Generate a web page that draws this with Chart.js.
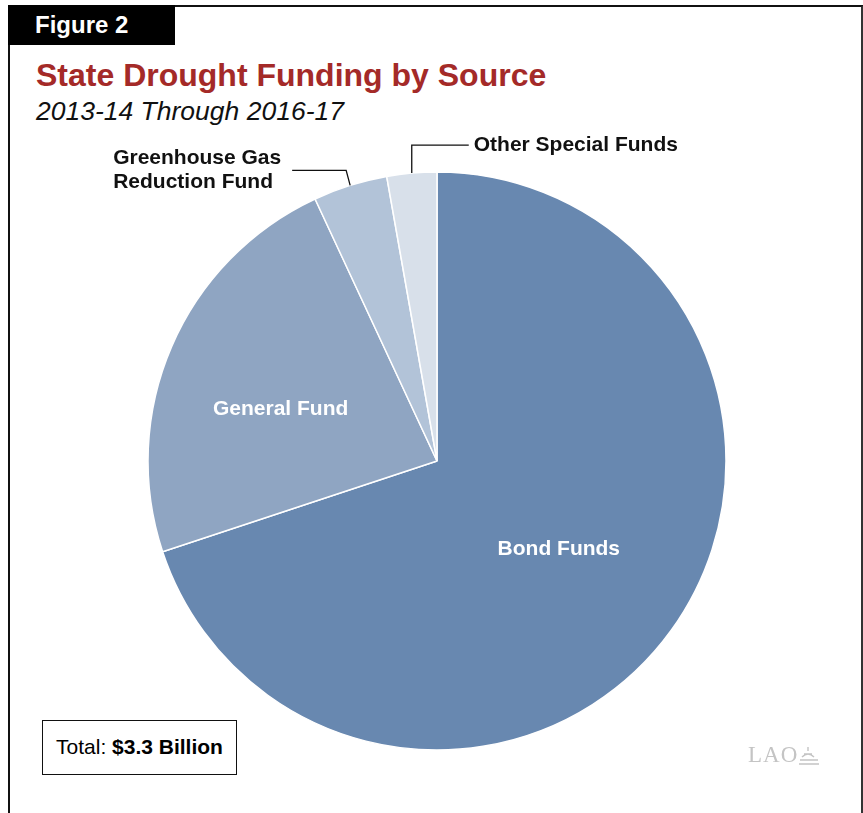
<!DOCTYPE html>
<html>
<head>
<meta charset="utf-8">
<script src="https://cdn.jsdelivr.net/npm/chart.js@4"></script>
<style>
  html, body { margin: 0; padding: 0; background: #fff; }
  body { width: 863px; height: 813px; position: relative; overflow: hidden; font-family: "Liberation Sans", Arial, sans-serif; }
  .frame { position: absolute; left: 8px; top: 5px; width: 851px; height: 830px; border-left: 2px solid #111; border-top: 2px solid #111; border-right: 3px solid #333; }
  .fig { position: absolute; left: 8px; top: 5px; width: 167px; height: 40px; background: #000; color: #fff; font-weight: bold; font-size: 24px; line-height: 40px; padding-left: 27px; box-sizing: border-box; }
  .title { position: absolute; left: 36px; top: 57px; color: #a42a28; font-weight: bold; font-size: 32px; white-space: nowrap; }
  .sub { position: absolute; left: 36px; top: 96px; font-style: italic; font-size: 26.5px; white-space: nowrap; color: #111; }
  .total { position: absolute; left: 42px; top: 720px; width: 195px; height: 55px; border: 1.5px solid #111; box-sizing: border-box; font-size: 21px; line-height: 52px; text-align: center; background: #fff; }
  .lao { position: absolute; left: 748px; top: 742px; font-family: "Liberation Serif", serif; font-size: 23px; color: #c4c4c4; letter-spacing: 1px; }
  .dome { position: absolute; left: 797px; top: 745px; }
  #wrap { position: absolute; left: 0; top: 0; width: 863px; height: 813px; }
</style>
</head>
<body>
<div class="frame"></div>
<div class="fig">Figure 2</div>
<div class="title">State Drought Funding by Source</div>
<div class="sub">2013-14 Through 2016-17</div>
<div id="wrap"><canvas id="pie" width="863" height="813"></canvas></div>
<div class="total">Total: <b>$3.3 Billion</b></div>
<div class="lao">LAO</div>
<svg class="dome" width="24" height="24" viewBox="0 0 24 24">
  <g fill="none" stroke="#c4c4c4" stroke-width="1.4">
    <path d="M11 2 v4 M7 9 h8 M5 12 q6 -6 12 0 M3 15 h18 M2 19 h20"/>
  </g>
</svg>
<script>
// millions of dollars, 2013-14 through 2016-17
const labels = ["Bond Funds", "General Fund", "Greenhouse Gas Reduction Fund", "Other Special Funds"];
const amounts = [2310, 765, 137, 92];
const colors = ["#6888b0", "#8fa5c2", "#b2c3d8", "#d8e0ea"];

// label text drawn on/near the slices
const sliceLabels = [
  { lines: ["Bond Funds"], inside: true, dist: 0.52, turn: 0 },
  { lines: ["General Fund"], inside: true, dist: 0.57, turn: -5 },
  { lines: ["Greenhouse Gas", "Reduction Fund"], inside: false },
  { lines: ["Other Special Funds"], inside: false }
];

const labelPlugin = {
  id: 'sliceLabels',
  afterDatasetsDraw(chart) {
    const ctx = chart.ctx;
    const arcs = chart.getDatasetMeta(0).data;
    ctx.save();
    ctx.font = 'bold 21px "Liberation Sans", Arial, sans-serif';
    arcs.forEach((arc, i) => {
      const mid = (arc.startAngle + arc.endAngle) / 2;
      const r = arc.outerRadius;
      const info = sliceLabels[i];
      if (info.inside) {
        const a = mid + info.turn * Math.PI / 180;
        const d = r * info.dist;
        ctx.fillStyle = '#fff';
        ctx.textAlign = 'center';
        ctx.textBaseline = 'middle';
        ctx.fillText(info.lines[0], arc.x + Math.cos(a) * d, arc.y + Math.sin(a) * d);
        return;
      }
      const ex = arc.x + Math.cos(mid) * r;
      const ey = arc.y + Math.sin(mid) * r;
      ctx.strokeStyle = '#111';
      ctx.lineWidth = 1.3;
      ctx.fillStyle = '#111';
      ctx.textBaseline = 'middle';
      ctx.beginPath();
      if (i === 2) {
        ctx.moveTo(ex, ey);
        ctx.lineTo(ex - 4, ey - 15);
        ctx.lineTo(ex - 58, ey - 15);
        ctx.stroke();
        ctx.textAlign = 'left';
        ctx.fillText(info.lines[0], ex - 237, ey - 27);
        ctx.fillText(info.lines[1], ex - 237, ey - 3);
      } else {
        ctx.moveTo(ex, ey);
        ctx.lineTo(ex, ey - 28);
        ctx.lineTo(ex + 57, ey - 28);
        ctx.stroke();
        ctx.textAlign = 'left';
        ctx.fillText(info.lines[0], ex + 62, ey - 28);
      }
    });
    ctx.restore();
  }
};

new Chart(document.getElementById('pie'), {
  type: 'pie',
  data: {
    labels: labels,
    datasets: [{
      data: amounts,
      backgroundColor: colors,
      borderColor: '#fff',
      borderWidth: 1.5
    }]
  },
  options: {
    responsive: false,
    animation: false,
    radius: 289,
    // puts the pie centre at (437, 461) on the 863x813 canvas
    layout: { padding: { left: 11, right: 0, top: 109, bottom: 0 } },
    plugins: {
      legend: { display: false },
      tooltip: { enabled: false }
    }
  },
  plugins: [labelPlugin]
});
</script>
</body>
</html>
